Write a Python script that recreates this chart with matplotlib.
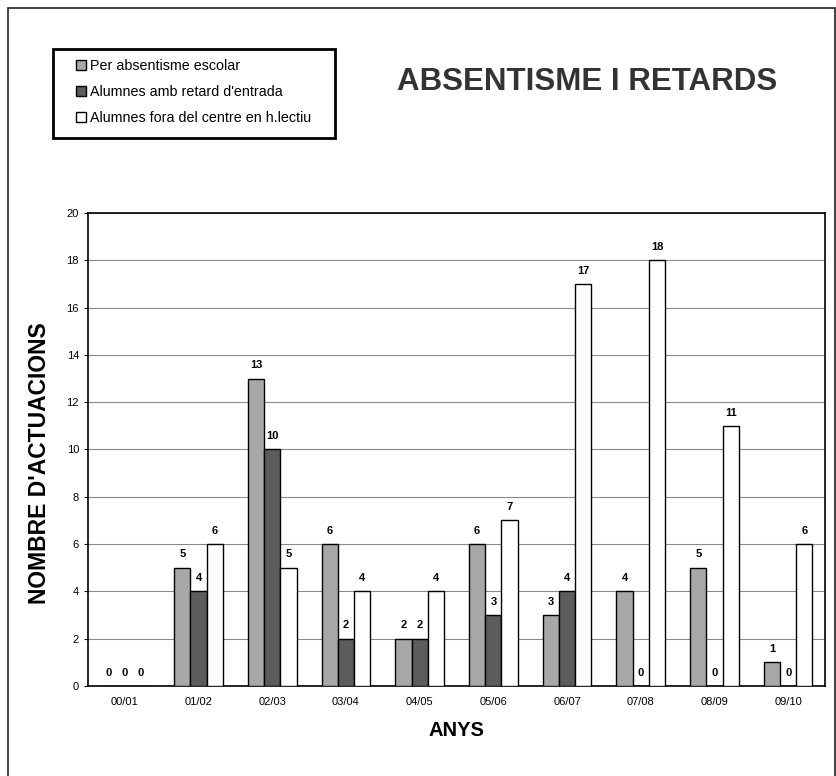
import matplotlib
matplotlib.use("Agg")
import matplotlib.pyplot as plt
from matplotlib.patches import Rectangle
import numpy as np

plt.rcParams["font.family"] = ["Liberation Sans", "DejaVu Sans"]

# dades llegides del gràfic
anys = ["00/01", "01/02", "02/03", "03/04", "04/05", "05/06", "06/07", "07/08", "08/09", "09/10"]
absentisme = [0, 5, 13, 6, 2, 6, 3, 4, 5, 1]
retard = [0, 4, 10, 2, 2, 3, 4, 0, 0, 0]
fora_centre = [0, 6, 5, 4, 4, 7, 17, 18, 11, 6]

series = [
    ("Per absentisme escolar", absentisme, "#a8a8a8"),
    ("Alumnes amb retard d'entrada", retard, "#5c5c5c"),
    ("Alumnes fora del centre en h.lectiu", fora_centre, "#ffffff"),
]

W, H = 837, 776
fig = plt.figure(figsize=(W / 100, H / 100), dpi=100)

# marc exterior de la pàgina
fig.patches.append(Rectangle((8 / W, -0.02), (835 - 8) / W, 1 - 8 / H + 0.02,
                             transform=fig.transFigure, fill=False,
                             edgecolor="#222222", linewidth=1.2))

ax = fig.add_axes([88 / W, 1 - 686 / H, (825 - 88) / W, (686 - 213) / H])

x = np.arange(len(anys))
amplada = 0.22
handles = []
for i, (nom, vals, color) in enumerate(series):
    pos = x + (i - 1) * amplada
    barres = ax.bar(pos, vals, amplada, color=color, edgecolor="black",
                    linewidth=1.0, label=nom, zorder=3)
    handles.append(barres)
    for xi, v in zip(pos, vals):
        ax.text(xi, v + 0.35, str(v), ha="center", va="bottom",
                fontsize=8, fontweight="bold", zorder=4)

ax.set_xlim(-0.5, len(anys) - 0.5)
ax.set_ylim(0, 20)
ax.set_yticks(range(0, 21, 2))
ax.set_xticks(x)
ax.set_xticklabels(anys, fontsize=8)
ax.tick_params(axis="y", labelsize=8, length=3)
ax.tick_params(axis="x", length=0, pad=8)
ax.yaxis.grid(True, color="#8a8a8a", linewidth=0.8, zorder=0)
for s in ax.spines.values():
    s.set_linewidth(1.2)

ax.set_xlabel("ANYS", fontsize=14.5, fontweight="bold", labelpad=10)
fig.text(40 / W, 1 - 463 / H, "NOMBRE D'ACTUACIONS", rotation=90,
         ha="center", va="center", fontsize=16.5, fontweight="bold")

fig.text(587 / W, 1 - 82 / H, "ABSENTISME I RETARDS", ha="center", va="center",
         fontsize=22.5, fontweight="bold", color="#333333")

# llegenda sense marc propi; el marc gruixut es dibuixa a part
leg = fig.legend(handles=handles, loc="upper left",
                 bbox_to_anchor=(76 / W, 1 - 59 / H), bbox_transform=fig.transFigure,
                 borderaxespad=0, borderpad=0, fontsize=10.3, frameon=False,
                 handlelength=0.7, handleheight=0.7, handletextpad=0.3,
                 labelspacing=0.85)
fig.patches.append(Rectangle((53 / W, 1 - 138 / H), (335 - 53) / W, (138 - 49) / H,
                             transform=fig.transFigure, fill=False,
                             edgecolor="black", linewidth=2))

fig.savefig("out.png", dpi=100)
plt.close(fig)
